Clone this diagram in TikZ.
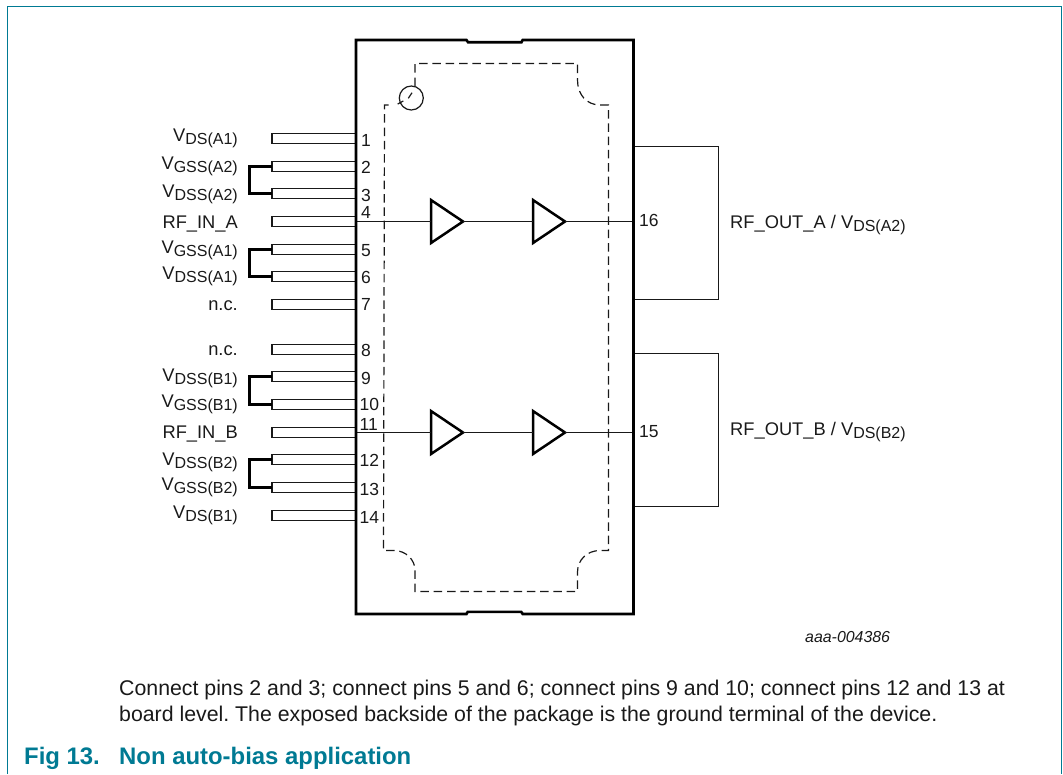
\documentclass[tikz,border=0pt]{standalone}
\usepackage{fontspec}
\setmainfont{Liberation Sans}
\usetikzlibrary{shapes.geometric}
\definecolor{nxpteal}{RGB}{0,122,147}
\definecolor{ink}{RGB}{25,25,25}
\newcommand{\lowtx}[1]{\raisebox{-3.2pt}{\fontsize{16}{16}\selectfont #1}}
\frenchspacing
\tikzset{
  x=1pt,y=-1pt,
  frameline/.style={draw=nxpteal,line width=1.3pt},
  bodyline/.style={draw=black,line width=2.6pt,line join=miter},
  pinbox/.style={draw=ink,line width=1.3pt,fill=white,rectangle,minimum width=84pt,minimum height=10pt,inner sep=0pt,outer sep=0pt,anchor=east},
  bridge/.style={draw=black,line width=3.9pt,line join=miter},
  wire/.style={draw=ink,line width=1.2pt},
  dashline/.style={draw=ink,line width=1.2pt,dash pattern=on 8.5pt off 4.8pt},
  amp/.style={draw=black,line width=2.5pt,fill=white,isosceles triangle,isosceles triangle stretches,minimum width=43pt,minimum height=32pt,inner sep=0pt,outer sep=0pt,anchor=apex},
  lbl/.style={text=ink,font=\fontsize{18.3}{20}\selectfont,inner sep=0pt,anchor=base east},
  rlbl/.style={text=ink,font=\fontsize{18.3}{20}\selectfont,inner sep=0pt,anchor=base west},
  num/.style={text=ink,font=\fontsize{17.5}{20}\selectfont,inner sep=0pt,anchor=base west},
  para/.style={text=ink,font=\fontsize{21.3}{26}\selectfont,inner sep=0pt,anchor=base west},
  figt/.style={text=nxpteal,font=\bfseries\fontsize{23.9}{26}\selectfont,inner sep=0pt,anchor=base west},
}
\begin{document}
\begin{tikzpicture}
\useasboundingbox (0,0) rectangle (1063,774);
% outer frame
\draw[frameline] (7.3,774) -- (7.3,6.3) -- (1061.3,6.3) -- (1061.3,774);
% right-hand loops
\coordinate (boxAa) at (634,146.5);
\coordinate (boxAb) at (718.5,146.5);
\coordinate (boxAc) at (718.5,299.5);
\coordinate (boxAd) at (634,299.5);
\coordinate (boxBa) at (634,353.5);
\coordinate (boxBb) at (718.5,353.5);
\coordinate (boxBc) at (718.5,506.5);
\coordinate (boxBd) at (634,506.5);
\draw[wire] (boxAa) -- (boxAb) -- (boxAc) -- (boxAd);
\draw[wire] (boxBa) -- (boxBb) -- (boxBc) -- (boxBd);
% pins
\foreach \n/\y in {1/139,2/167,3/194,4/222,5/250,6/277,7/305,8/350,9/377,10/405,11/433,12/460,13/488,14/516}{
  \node[pinbox] (p\n) at (356,\y-0.5) {};
}
% bridges between pins
\draw[bridge] (p2.west) -- ++(-22.5,0) |- (p3.west);
\draw[bridge] (p5.west) -- ++(-22.5,0) |- (p6.west);
\draw[bridge] (p9.west) -- ++(-22.5,0) |- (p10.west);
\draw[bridge] (p12.west) -- ++(-22.5,0) |- (p13.west);
% dashed exposed pad outline with pin-1 mark
\node[draw=ink,line width=1.2pt,circle,minimum size=24pt,inner sep=0pt,outer sep=0pt] (mark) at (411.3,98) {};
\coordinate (padS) at (415,86);
\coordinate (padA) at (415,63.5);
\coordinate (padB) at (577.5,63.5);
\coordinate (padC) at (608.5,105);
\coordinate (padD) at (608.5,550.5);
\coordinate (padE) at (577.5,591.5);
\coordinate (padF) at (415,591.5);
\coordinate (padG) at (383.5,550.5);
\coordinate (padH) at (384.5,105);
\draw[dashline] (padS) -- (padA) -- (padB) -- (577.5,80) .. controls (577.5,95) and (587,105) .. (600,105) -- (padC) -- (padD) -- (600,550.5) .. controls (587,550.5) and (577.5,560) .. (577.5,572) -- (padE) -- (padF) -- (415,570) .. controls (415,560) and (406,550.5) .. (394,550.5) -- (padG) -- (padH) -- (392,105);
\draw[wire] (397.7,104) -- (403.3,101);
\draw[wire] (408.3,98.3) -- (412,92.7);
% amplifiers
\node[amp] (a1) at (463,221.5) {};
\node[amp] (a2) at (565,221.5) {};
\node[amp] (b1) at (463,432.5) {};
\node[amp] (b2) at (565,432.5) {};
\coordinate (outA) at (633,221.5);
\coordinate (outB) at (633,432.5);
\draw[wire] (p4.east) -- (a1.lower side);
\draw[wire] (a1.apex) -- (a2.lower side);
\draw[wire] (a2.apex) -- (outA);
\draw[wire] (p11.east) -- (b1.lower side);
\draw[wire] (b1.apex) -- (b2.lower side);
\draw[wire] (b2.apex) -- (outB);
% package body
\coordinate (c1) at (356,40);
\coordinate (c2) at (466.5,40);
\coordinate (c3) at (522.7,40);
\coordinate (c4) at (633.5,40);
\coordinate (c5) at (633.5,614);
\coordinate (c6) at (522.7,614);
\coordinate (c7) at (466.5,614);
\coordinate (c8) at (356,614);
\draw[bodyline] (c1) -- (c2) -- ++(1.5,2.2) -- ++(53.5,0) -- (c3) -- (c4) -- (c5) -- (c6) -- ++(-1.5,-2.2) -- ++(-53.5,0) -- (c7) -- (c8) -- cycle;
% pin labels
\node[lbl] (l1) at (238,141.7) {V\lowtx{DS(A1)}};
\node[lbl] (l2) at (238,169.3) {V\lowtx{GSS(A2)}};
\node[lbl] (l3) at (238,197) {V\lowtx{DSS(A2)}};
\node[lbl] (l4) at (238,228) {RF\_IN\_A};
\node[lbl] (l5) at (238,253) {V\lowtx{GSS(A1)}};
\node[lbl] (l6) at (238,279.5) {V\lowtx{DSS(A1)}};
\node[lbl] (l7) at (238,310) {n.c.};
\node[lbl] (l8) at (238,355) {n.c.};
\node[lbl] (l9) at (238,381.7) {V\lowtx{DSS(B1)}};
\node[lbl] (l10) at (238,407) {V\lowtx{GSS(B1)}};
\node[lbl] (l11) at (238,438) {RF\_IN\_B};
\node[lbl] (l12) at (238,465) {V\lowtx{DSS(B2)}};
\node[lbl] (l13) at (238,490) {V\lowtx{GSS(B2)}};
\node[lbl] (l14) at (238,518) {V\lowtx{DS(B1)}};
% pin numbers
\foreach \n/\xx/\y in {1/361/146,2/361/173,3/361/201,4/361/218,5/361/256,6/361/283,7/361/310.7,8/361/356.7,9/361/384,10/359.5/410,11/359.5/430,12/359.5/466.7,13/359.5/495,14/359.5/523}{
  \node[num] (n\n) at (\xx,\y) {\n};
}
\node[num] (n16) at (639,226) {16};
\node[num] (n15) at (639,437.7) {15};
% output labels
\node[rlbl] (ra) at (730,228) {RF\_OUT\_A / V\lowtx{DS(A2)}};
\node[rlbl] (rb) at (730,435) {RF\_OUT\_B / V\lowtx{DS(B2)}};
\node[text=ink,font=\itshape\fontsize{15.9}{18}\selectfont,inner sep=0pt,anchor=base west] (code) at (805,642) {aaa-004386};
% caption
\node[para] (t1) at (119,695) {Connect pins 2 and 3; connect pins 5 and 6; connect pins 9 and 10; connect pins 12 and 13 at};
\node[para] (t2) at (119,721) {board level. The exposed backside of the package is the ground terminal of the device.};
\node[figt] (f1) at (24,764.5) {Fig 13.};
\node[figt] (f2) at (119,764.5) {Non auto-bias application};
\end{tikzpicture}
\end{document}
